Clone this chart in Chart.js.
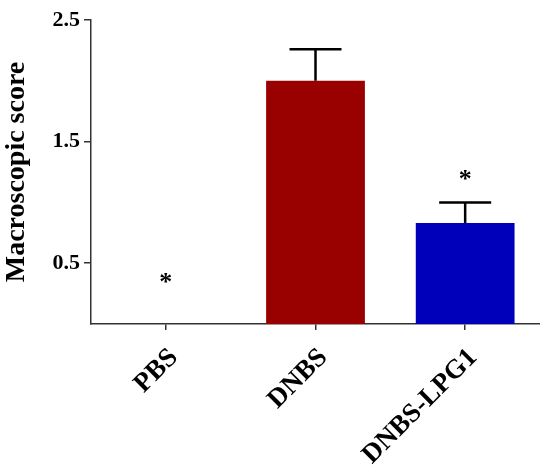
<!DOCTYPE html>
<html>
<head>
<meta charset="utf-8">
<script src="https://cdn.jsdelivr.net/npm/chart.js@4"></script>
<style>
    html, body { margin: 0; padding: 0; background: #fff; }
    #wrap { width: 540px; height: 471px; }
</style>
</head>
<body>
<div id="wrap"><canvas id="scoreChart"></canvas></div>
<script>
// Data
const groups = ['PBS', 'DNBS', 'DNBS-LPG1'];
const scores = [0, 2.0, 0.83];
const errors = [0, 0.26, 0.17];
const starMarks = ['*', '', '*'];
const starLevels = [0.38, 0, 1.22];
const yTicks = [0.5, 1.5, 2.5];
const barColors = ['#000000', '#990000', '#0000bb'];

const serif = '"Liberation Serif", "Times New Roman", serif';

// Error bars (upper only) + cap
const errorBarPlugin = {
    id: 'errorBars',
    afterDatasetsDraw(chart) {
        const ctx = chart.ctx;
        const yScale = chart.scales.y;
        const meta = chart.getDatasetMeta(0);
        ctx.save();
        ctx.strokeStyle = '#000';
        ctx.lineWidth = 2.5;
        meta.data.forEach((bar, i) => {
            if (!errors[i]) return;
            const top = yScale.getPixelForValue(scores[i] + errors[i]);
            ctx.beginPath();
            ctx.moveTo(bar.x, bar.y);
            ctx.lineTo(bar.x, top);
            ctx.moveTo(bar.x - 26, top);
            ctx.lineTo(bar.x + 26, top);
            ctx.stroke();
        });
        ctx.restore();
    }
};

// Significance asterisks
const starPlugin = {
    id: 'stars',
    afterDatasetsDraw(chart) {
        const ctx = chart.ctx;
        const yScale = chart.scales.y;
        const meta = chart.getDatasetMeta(0);
        ctx.save();
        ctx.fillStyle = '#000';
        ctx.font = 'bold 26px ' + serif;
        ctx.textAlign = 'center';
        ctx.textBaseline = 'middle';
        meta.data.forEach((bar, i) => {
            if (!starMarks[i]) return;
            ctx.fillText(starMarks[i], bar.x, yScale.getPixelForValue(starLevels[i]) + 5);
        });
        ctx.restore();
    }
};

new Chart(document.getElementById('scoreChart'), {
    type: 'bar',
    data: {
        labels: groups,
        datasets: [{
            data: scores,
            backgroundColor: barColors,
            borderWidth: 0,
            barPercentage: 0.66,
            categoryPercentage: 1
        }]
    },
    options: {
        responsive: true,
        maintainAspectRatio: false,
        animation: false,
        layout: { padding: { top: 20, right: 0, left: 0, bottom: 0 } },
        plugins: {
            legend: { display: false },
            tooltip: { enabled: false }
        },
        scales: {
            x: {
                grid: {
                    display: true,
                    offset: false,
                    drawOnChartArea: false,
                    drawTicks: true,
                    tickLength: 6,
                    color: '#333',
                    lineWidth: 1.5
                },
                border: { display: true, color: '#333', width: 1.5 },
                ticks: {
                    color: '#000',
                    font: { family: serif, size: 27, weight: 'bold' },
                    minRotation: 45,
                    maxRotation: 45,
                    padding: 12,
                    labelOffset: 8
                },
                afterFit(scale) {
                    scale.height = 147;
                    scale.paddingRight = 0;
                    scale.paddingLeft = 0;
                }
            },
            y: {
                min: 0,
                max: 2.5,
                afterBuildTicks(scale) {
                    scale.ticks = yTicks.map(v => ({ value: v }));
                },
                grid: {
                    display: true,
                    drawOnChartArea: false,
                    drawTicks: true,
                    tickLength: 7,
                    color: '#333',
                    lineWidth: 1.5
                },
                border: { display: true, color: '#333', width: 1.5 },
                ticks: {
                    color: '#000',
                    font: { family: serif, size: 22, weight: 'bold' },
                    padding: 4,
                    callback: v => v.toFixed(1)
                },
                title: {
                    display: true,
                    text: 'Macroscopic score',
                    color: '#000',
                    font: { family: serif, size: 28, weight: 'bold' },
                    padding: { top: 0, bottom: 4 }
                },
                afterFit(scale) {
                    scale.width = 91;
                    scale.paddingTop = 0;
                    scale.paddingBottom = 0;
                }
            }
        }
    },
    plugins: [errorBarPlugin, starPlugin]
});
</script>
</body>
</html>
